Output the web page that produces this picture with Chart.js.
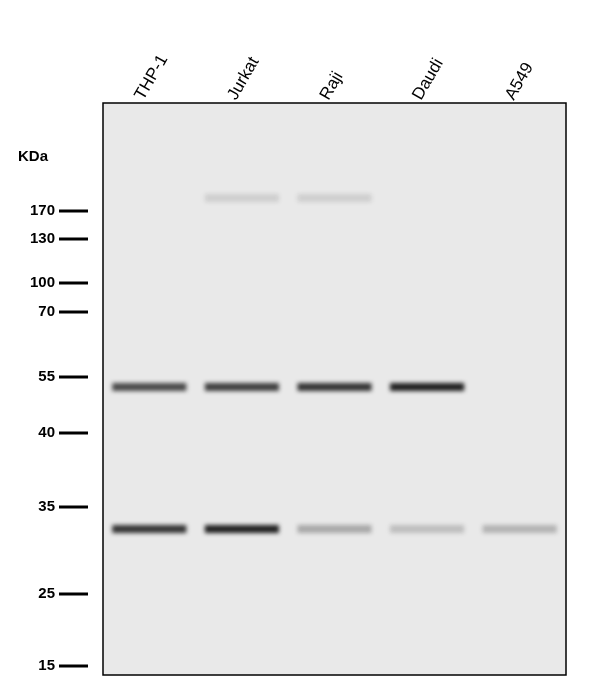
<!DOCTYPE html>
<html>
<head>
<meta charset="utf-8">
<script src="https://cdn.jsdelivr.net/npm/chart.js@4.4.1/dist/chart.umd.min.js"></script>
<style>
html,body{margin:0;padding:0;background:#fff}
#wrap{width:600px;height:692px}
</style>
</head>
<body>
<div id="wrap"><canvas id="blot"></canvas></div>
<script>
// lanes and marker ladder
const lanes = ["THP-1","Jurkat","Raji","Daudi","A549"]
const markerKDa = [170,130,100,70,55,40,35,25,15]
const markerPos = [108,136,180,209,274,330,404,491,563]   // migration, px from top of membrane

// band positions (migration) and intensities per lane
const bandPos = [95,284,426]
const bandTop = [0,0.12,0.12,0,0]
const band55 = [0.75,0.8,0.85,0.95,0]
const band31 = [0.85,0.95,0.3,0.2,0.25]

function bandSet(pos,vals){
return {
data: lanes.map(()=>[pos-4,pos+4]),
backgroundColor: vals.map(v=>"rgba(20,20,20,"+v+")"),
barPercentage:0.8,
categoryPercentage:1,
grouped:false
}
}

const blotPlugin = {
id:"blot",
beforeDraw(chart){
const {ctx,chartArea:a} = chart
ctx.save()
ctx.fillStyle="#e9e9e9"
ctx.fillRect(a.left,a.top,a.right-a.left,a.bottom-a.top)
ctx.restore()
},
beforeDatasetsDraw(chart){
chart.ctx.save()
chart.ctx.filter="blur(2px)"
},
afterDatasetsDraw(chart){
chart.ctx.restore()
const {ctx,chartArea:a,scales} = chart
ctx.save()
ctx.strokeStyle="#000"
ctx.lineWidth=1.5
ctx.strokeRect(a.left,a.top,a.right-a.left,a.bottom-a.top)
// ladder
ctx.fillStyle="#000"
ctx.font="bold 15px Arial, 'Liberation Sans'"
ctx.textAlign="right"
ctx.textBaseline="middle"
markerKDa.forEach((k,i)=>{
const y=scales.y.getPixelForValue(markerPos[i])
ctx.fillRect(59,y-1.5,29,3)
ctx.fillText(String(k),55,y)
})
ctx.textAlign="left"
ctx.fillText("KDa",18,157)
// lane labels
ctx.font="17px Arial, 'Liberation Sans'"
ctx.textBaseline="alphabetic"
lanes.forEach((l,i)=>{
const x=scales.x.getPixelForValue(i)
ctx.save()
ctx.translate(x-6,101)
ctx.rotate(-Math.PI/3)
ctx.fillText(l,0,0)
ctx.restore()
})
ctx.restore()
}
}

new Chart(document.getElementById("blot"),{
type:"bar",
data:{
labels:lanes,
datasets:[
bandSet(bandPos[0],bandTop),
bandSet(bandPos[1],band55),
bandSet(bandPos[2],band31)
]
},
options:{
responsive:true,
maintainAspectRatio:false,
animation:false,
layout:{padding:{left:0,right:34,top:0,bottom:17}},
plugins:{legend:{display:false},tooltip:{enabled:false}},
scales:{
x:{
position:"top",
grid:{display:false},
border:{display:false},
ticks:{display:false},
afterFit(s){s.height=103}
},
y:{
min:0,max:572,reverse:true,
grid:{display:false},
border:{display:false},
ticks:{display:false},
afterFit(s){s.width=103}
}
}
},
plugins:[blotPlugin]
})
</script>
</body>
</html>
